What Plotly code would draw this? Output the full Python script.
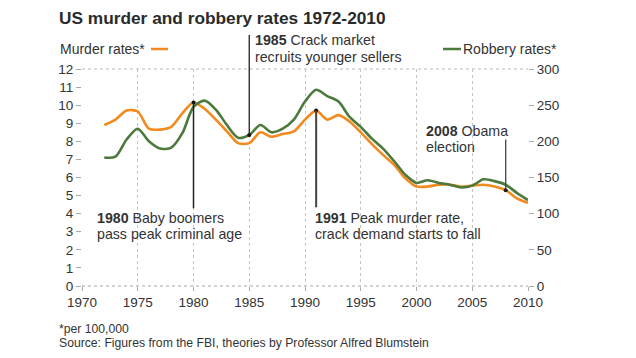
import plotly.graph_objects as go

years = list(range(1972, 2011))
murder = [8.9, 9.2, 9.7, 9.65, 8.7, 8.65, 8.8, 9.55, 10.15, 9.8, 9.2, 8.55, 7.9, 7.9,
          8.5, 8.25, 8.4, 8.55, 9.2, 9.7, 9.2, 9.45, 9.1, 8.5, 7.85, 7.25, 6.7, 5.95,
          5.5, 5.5, 5.6, 5.6, 5.5, 5.55, 5.6, 5.5, 5.3, 4.85, 4.6]
robbery = [177.5, 178.75, 202.5, 217.5, 200, 190, 191.25, 211.25, 247.5, 256.25, 243.75,
           222.5, 205, 208.75, 222.5, 212.5, 217.5, 230, 255, 271.25, 262.5, 255, 233.75,
           220, 203.75, 190, 172.5, 153.75, 142.5, 146.25, 142.5, 140, 136.25, 138.75,
           147.5, 145, 140, 128.75, 118.75]
x_ticks = list(range(1970, 2011, 5))
left_ticks = list(range(0, 13))
right_ticks = list(range(0, 301, 50))

ORANGE = "#F28A1E"
GREEN = "#4C7A3C"
TXT = "#333333"
FONT = "Liberation Sans, Arial, sans-serif"

# page body has an 8px margin; the figure is laid out in page pixels minus OFF
OFF = 8
W, H = 636 - OFF, 358 - OFF
L, R, T, B = 82 - OFF, 108, 69 - OFF, 72
PW, PH = W - L - R, H - T - B


def px(x):
    return (x - OFF - L) / PW


def py(y):
    return (H - B - (y - OFF)) / PH


fig = go.Figure()
fig.add_trace(go.Scatter(x=years, y=robbery, yaxis="y2", mode="lines",
                         line=dict(color=GREEN, width=2.6, shape="spline", smoothing=0.8),
                         hoverinfo="skip"))
fig.add_trace(go.Scatter(x=years, y=murder, mode="lines",
                         line=dict(color=ORANGE, width=2.6, shape="spline", smoothing=0.8),
                         hoverinfo="skip"))

m = dict(zip(years, murder))
r = dict(zip(years, robbery))

shapes = []
shapes.append(dict(type="line", xref="x", yref="y", x0=1980, x1=1980, y0=m[1980], y1=4.3,
                   line=dict(color="#222", width=1.5), layer="above"))
shapes.append(dict(type="line", xref="x", yref="y", x0=1991, x1=1991, y0=m[1991], y1=4.35,
                   line=dict(color="#444", width=2), layer="above"))
shapes.append(dict(type="line", xref="x", yref="y", x0=2008, x1=2008, y0=m[2008], y1=8.1,
                   line=dict(color="#444", width=1.3), layer="above"))
shapes.append(dict(type="line", xref="x", yref="paper", x0=1985, x1=1985,
                   y0=r[1985] / 300, y1=py(35),
                   line=dict(color="#222", width=1.3), layer="above"))
shapes.append(dict(type="line", xref="paper", yref="paper", x0=0, x1=1, y0=1, y1=1,
                   line=dict(color="#bbbbbb", width=1, dash="dot"), layer="below"))
shapes.append(dict(type="line", xref="paper", yref="paper", x0=0, x1=1, y0=0, y1=0,
                   line=dict(color="#aaaaaa", width=1.2, dash="dot"), layer="below"))
shapes.append(dict(type="line", xref="paper", yref="paper", x0=px(151), x1=px(168),
                   y0=py(49), y1=py(49), line=dict(color=ORANGE, width=2.5)))
shapes.append(dict(type="line", xref="paper", yref="paper", x0=px(443), x1=px(461),
                   y0=py(49), y1=py(49), line=dict(color=GREEN, width=2.5)))

fig.add_trace(go.Scatter(x=[1980, 1991, 2008], y=[m[1980], m[1991], m[2008]], mode="markers",
                         marker=dict(color="#111", size=4), hoverinfo="skip"))
fig.add_trace(go.Scatter(x=[1985], y=[r[1985]], yaxis="y2", mode="markers",
                         marker=dict(color="#111", size=4), hoverinfo="skip"))

ann = []


def text(x, y, s, size=14, anchor="left", color=TXT):
    ann.append(dict(x=x, y=y, xref="paper", yref="paper", text=s, showarrow=False,
                    xanchor=anchor, yanchor="middle", align=anchor,
                    font=dict(size=size, color=color, family=FONT)))


AS = 14.2
text(px(58), py(49), "Murder rates*", 14)
text(px(559), py(49), "Robbery rates*", 14, anchor="right")
text(px(253), py(40.5), "<b>1985</b> Crack market", AS)
text(px(253), py(56.5), "recruits younger sellers", AS)
text(px(95), py(218), "<b>1980</b> Baby boomers", AS)
text(px(95), py(234), "pass peak criminal age", AS)
text(px(313), py(218), "<b>1991</b> Peak murder rate,", AS)
text(px(313), py(234), "crack demand starts to fall", AS)
text(px(424), py(131), "<b>2008</b> Obama", AS)
text(px(424), py(147), "election", AS)
text(px(57), py(329), "*per 100,000", 12.2)
text(px(57), py(343), "Source: Figures from the FBI, theories by Professor Alfred Blumstein", 12.2)
text(px(57), py(18), "<b>US murder and robbery rates 1972-2010</b>", 17.3, color="#2b2b2b")

fig.update_layout(
    width=W, height=H,
    margin=dict(l=L, r=R, t=T, b=B),
    paper_bgcolor="white", plot_bgcolor="white",
    showlegend=False,
    shapes=shapes, annotations=ann,
    font=dict(family=FONT, color=TXT, size=13),
    xaxis=dict(range=[1970, 2010], tickvals=x_ticks, ticktext=[str(v) for v in x_ticks],
               showgrid=True, gridcolor="#c4c4c4", griddash="dot", gridwidth=1,
               zeroline=False, showline=False, ticks="outside", ticklen=4,
               tickcolor="#aaaaaa", tickfont=dict(size=13.5, color=TXT)),
    yaxis=dict(range=[0, 12], tickvals=left_ticks, showgrid=False, zeroline=False,
               showline=False, ticks="outside", ticklen=5, tickcolor="#aaaaaa",
               tickfont=dict(size=13.5, color=TXT)),
    yaxis2=dict(range=[0, 300], tickvals=right_ticks, overlaying="y", side="right",
                showgrid=False, zeroline=False, showline=False, ticks="outside",
                ticklen=5, tickcolor="#aaaaaa", tickfont=dict(size=13.5, color=TXT)),
)

fig.write_html("out.html")
